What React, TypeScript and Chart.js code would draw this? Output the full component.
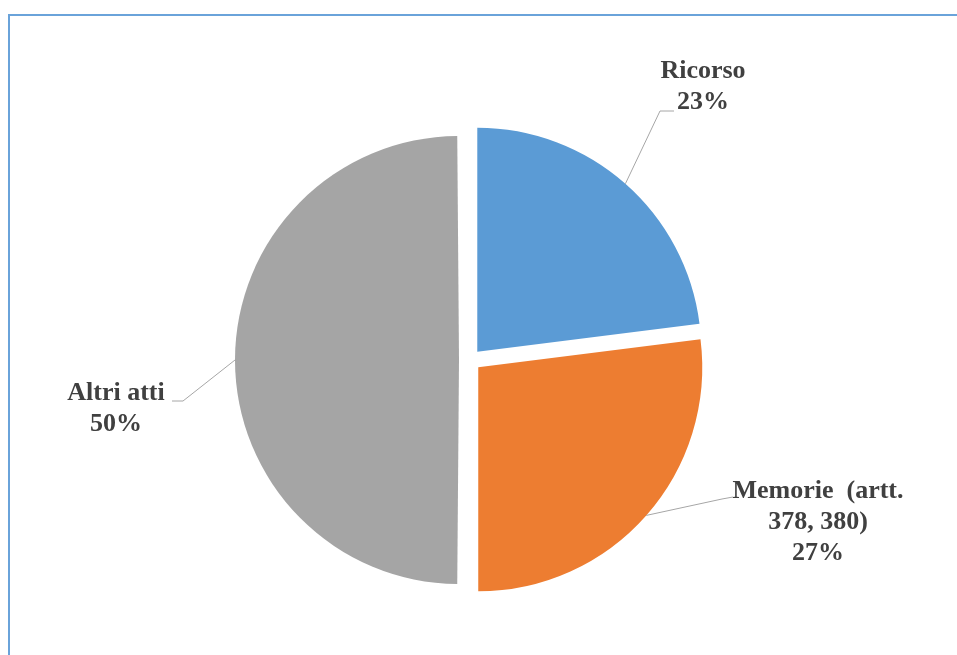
import React, { useEffect, useRef } from "react";
import { Chart, registerables } from "chart.js";

Chart.register(...registerables);

const categories = ["Ricorso", "Memorie (artt. 378, 380)", "Altri atti"];
const values = [23, 27, 50];
const labelTextLines = [["Ricorso"], ["Memorie  (artt.", "378, 380)"], ["Altri atti"]];
const colors = ["#5B9BD5", "#ED7D31", "#A5A5A5"];

const EXPLODE = 11; // pixel distance each slice is pulled out
const RADIUS = 224;

// label layout relative to the pie centre (text centre x, first baseline y, leader elbow, leader end)
const labelLayout = [
  { cx: 233, by: -282, elbow: [190, -249], end: [204, -249] },
  { cx: 348, by: 138, elbow: [252, 139], end: [263, 137] },
  { cx: -354, by: 40, elbow: [-287, 41], end: [-298, 41] },
];

// Chart.js draws an arc translated by offset/4 and enlarged by offset/4 * (1 - sin(min(PI, circ))).
// Keep every slice at the same radius.
const equalRadiusPlugin = {
  id: "equalRadius",
  beforeDatasetsDraw(chart: any) {
    const meta = chart.getDatasetMeta(0);
    meta.data.forEach((arc: any) => {
      const circ = arc.circumference || 0;
      const fix = 1 - Math.sin(Math.min(Math.PI, circ));
      arc.outerRadius = RADIUS - EXPLODE * fix;
    });
  },
};

const labelPlugin = {
  id: "pieLabels",
  afterDatasetsDraw(chart: any) {
    const meta = chart.getDatasetMeta(0);
    const ctx = chart.ctx;
    ctx.save();
    meta.data.forEach((arc: any, i: number) => {
      const { x, y, startAngle, endAngle } = arc.getProps(["x", "y", "startAngle", "endAngle"], true);
      const mid = (startAngle + endAngle) / 2;
      const sx = x + Math.cos(mid) * (EXPLODE + RADIUS);
      const sy = y + Math.sin(mid) * (EXPLODE + RADIUS);
      const L = labelLayout[i];
      ctx.strokeStyle = "#A6A6A6";
      ctx.lineWidth = 1;
      ctx.beginPath();
      ctx.moveTo(sx, sy);
      ctx.lineTo(x + L.elbow[0], y + L.elbow[1]);
      ctx.lineTo(x + L.end[0], y + L.end[1]);
      ctx.stroke();
      const lines = [...labelTextLines[i], `${values[i]}%`];
      ctx.fillStyle = "#404040";
      ctx.font = 'bold 26px "Liberation Serif", "Times New Roman", serif';
      ctx.textAlign = "center";
      ctx.textBaseline = "alphabetic";
      lines.forEach((t, k) => {
        ctx.fillText(t, x + L.cx, y + L.by + k * 31);
      });
    });
    ctx.restore();
  },
};

export default function App() {
  const ref = useRef<HTMLCanvasElement | null>(null);
  useEffect(() => {
    if (!ref.current) return;
    const chart = new Chart(ref.current, {
      type: "pie",
      data: {
        labels: categories,
        datasets: [
          {
            data: values,
            backgroundColor: colors,
            borderWidth: 0,
            offset: EXPLODE * 4,
            radius: RADIUS,
          } as any,
        ],
      },
      options: {
        animation: false,
        responsive: false,
        events: [],
        layout: { padding: { left: 100, right: 117, top: 130, bottom: 65 } },
        plugins: {
          legend: { display: false },
          tooltip: { enabled: false },
        },
      },
      plugins: [equalRadiusPlugin, labelPlugin],
    });
    return () => chart.destroy();
  }, []);
  return (
    <div style={{ position: "absolute", left: 0, top: 0, width: 957, height: 655, background: "#fff", overflow: "hidden" }}>
      <div
        style={{
          position: "absolute",
          left: 8,
          top: 14,
          right: -10,
          bottom: -10,
          borderTop: "2px solid #6AA3DA",
          borderLeft: "2px solid #6AA3DA",
        }}
      />
      <canvas ref={ref} width={957} height={655} style={{ position: "absolute", left: 0, top: 0, display: "block" }} />
    </div>
  );
}
